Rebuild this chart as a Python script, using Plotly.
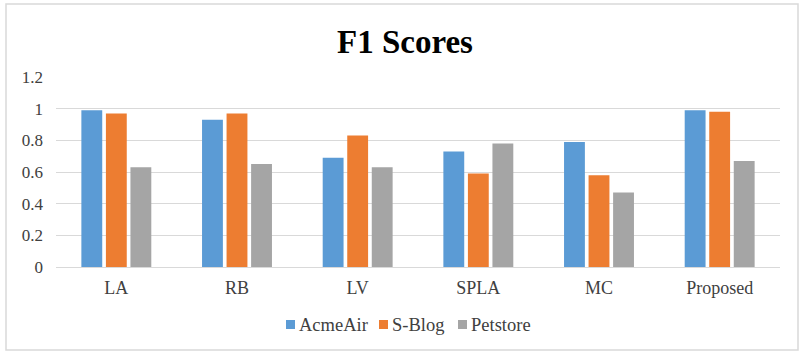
import plotly.graph_objects as go

categories = ["LA", "RB", "LV", "SPLA", "MC", "Proposed"]
acmeair = [0.99, 0.93, 0.69, 0.73, 0.79, 0.99]
sblog = [0.97, 0.97, 0.83, 0.59, 0.58, 0.98]
petstore = [0.63, 0.65, 0.63, 0.78, 0.47, 0.67]
series_names = ["AcmeAir", "S-Blog", "Petstore"]
colors = ["#5B9BD5", "#ED7D31", "#A5A5A5"]

FONT = "Liberation Serif, Times New Roman, serif"

fig = go.Figure()
for name, vals, col in zip(series_names, [acmeair, sblog, petstore], colors):
    fig.add_trace(go.Bar(x=categories, y=vals, name=name, marker_color=col,
                         marker_line_width=0, showlegend=False))

W, H = 810, 357
L, R, T, B = 56, 30, 77, 90
pw, ph = W - L - R, H - T - B

def px_x(x):
    return (x - L) / pw

def px_y(y):
    return (H - B - y) / ph

fig.update_layout(
    width=W, height=H,
    margin=dict(l=L, r=R, t=T, b=B),
    paper_bgcolor="white", plot_bgcolor="white",
    font=dict(family=FONT, size=17, color="#404040"),
    barmode="group", bargap=0.39, bargroupgap=0.15,
    title=dict(text="<b>F1 Scores</b>", x=0.5, xanchor="center",
               y=1 - 41 / H, yanchor="middle", yref="container",
               font=dict(family=FONT, size=33, color="black")),
    showlegend=False,
    xaxis=dict(showgrid=False, showline=False, ticks="",
               ticklabelstandoff=8,
               tickfont=dict(family=FONT, size=18, color="#404040")),
    yaxis=dict(range=[0, 1.2], dtick=0.2, tick0=0, showgrid=True,
               gridcolor="#D9D9D9", gridwidth=1, zeroline=True,
               zerolinecolor="#D9D9D9", zerolinewidth=1, showline=False,
               ticks="", ticklabelstandoff=12,
               tickfont=dict(family=FONT, size=17, color="#404040")),
)

# legend: coloured square + series name
legend_x = [286, 379, 458]
for name, col, lx in zip(series_names, colors, legend_x):
    fig.add_shape(type="rect", xref="paper", yref="paper",
                  x0=px_x(lx), x1=px_x(lx + 9), y0=px_y(329), y1=px_y(320),
                  line=dict(width=0), fillcolor=col)
    fig.add_annotation(
        xref="paper", yref="paper", x=px_x(lx + 11), y=px_y(325),
        xanchor="left", yanchor="middle", showarrow=False,
        text=name, font=dict(family=FONT, size=18.5, color="#404040"))

fig.add_shape(type="rect", xref="paper", yref="paper",
              x0=px_x(6), x1=px_x(798), y0=px_y(350), y1=px_y(4),
              line=dict(color="#D9D9D9", width=1.5), fillcolor="rgba(0,0,0,0)",
              layer="below")

fig.write_html("out.html", config={"displayModeBar": False},
               post_script="document.body.style.margin='0';document.body.style.padding='0';")
